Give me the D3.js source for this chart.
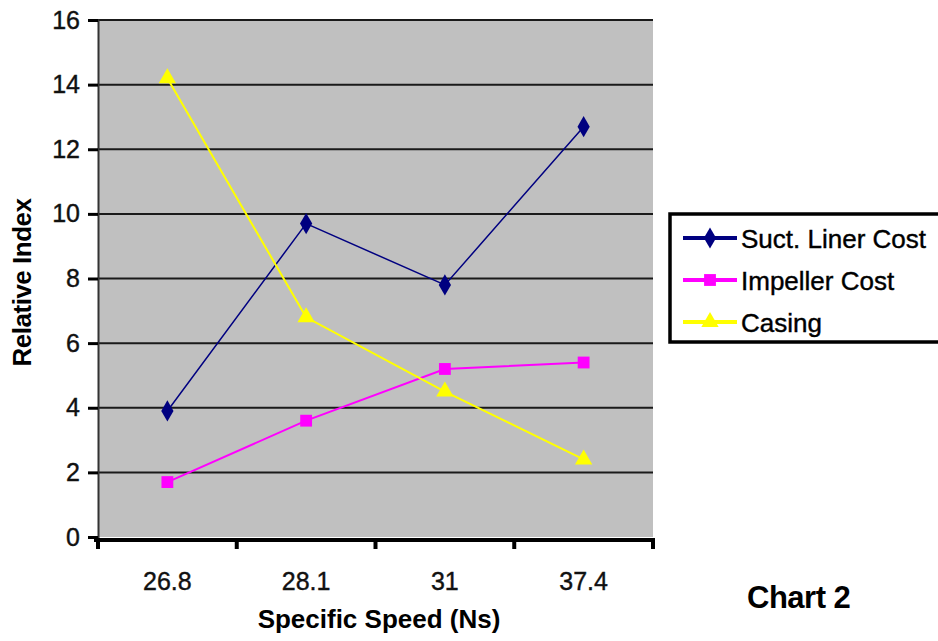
<!DOCTYPE html>
<html>
<head>
<meta charset="utf-8">
<script src="https://cdn.jsdelivr.net/npm/d3@7/dist/d3.min.js"></script>
<style>
  html, body { margin: 0; padding: 0; background: #fff; }
  svg { display: block; font-family: "Liberation Sans", Arial, sans-serif; }
</style>
</head>
<body>
<svg id="chart" width="938" height="641"></svg>
<script>
// Specific speed categories and relative cost indices
const categories = ["26.8", "28.1", "31", "37.4"];
const suctLinerCost = [3.9, 9.7, 7.8, 12.7];
const impellerCost = [1.7, 3.6, 5.2, 5.4];
const casing = [14.2, 6.8, 4.5, 2.4];
const yTicks = [0, 2, 4, 6, 8, 10, 12, 14, 16];
const seriesNames = ["Suct. Liner Cost", "Impeller Cost", "Casing"];

const series = [
  { name: seriesNames[0], values: suctLinerCost, color: "#000080", symbol: d3.symbolDiamond, size: 130, width: 1.5 },
  { name: seriesNames[1], values: impellerCost, color: "#ff00ff", symbol: d3.symbolSquare, size: 140, width: 2 },
  { name: seriesNames[2], values: casing, color: "#ffff00", symbol: d3.symbolTriangle, size: 130, width: 2 }
];

const svg = d3.select("#chart");
const plot = { left: 98, right: 653, top: 20, bottom: 537 };

const x = d3.scaleBand().domain(categories).range([plot.left, plot.right]).padding(0);
const y = d3.scaleLinear().domain([0, 16]).range([plot.bottom, plot.top]);

// Plot background
svg.append("rect")
  .attr("x", plot.left).attr("y", plot.top)
  .attr("width", plot.right - plot.left).attr("height", plot.bottom - plot.top)
  .attr("fill", "#c0c0c0");

// Horizontal gridlines
svg.append("g").selectAll("line")
  .data(yTicks.filter(t => t > 0))
  .join("line")
  .attr("x1", plot.left).attr("x2", plot.right)
  .attr("y1", d => y(d)).attr("y2", d => y(d))
  .attr("stroke", "#1a1a1a").attr("stroke-width", 2);

// Y axis
const yAxis = svg.append("g")
  .attr("transform", `translate(${plot.left},0)`)
  .call(d3.axisLeft(y).tickValues(yTicks).tickSize(10).tickPadding(8).tickFormat(d3.format("d")));
yAxis.select(".domain").attr("stroke", "#333").attr("stroke-width", 2);
yAxis.selectAll(".tick line").attr("stroke", "#000").attr("stroke-width", 3);
yAxis.selectAll("text")
  .attr("font-size", 25).attr("fill", "#111")
  .attr("stroke", "#111").attr("stroke-width", 0.4)
  .attr("font-family", "'Liberation Sans', Arial, sans-serif");

// X axis with ticks between categories
const xAxisG = svg.append("g").attr("transform", `translate(0,${plot.bottom + 3})`);
xAxisG.append("line")
  .attr("x1", plot.left - 4).attr("x2", plot.right + 2)
  .attr("stroke", "#000").attr("stroke-width", 4);
const boundaries = categories.map(c => x(c)).concat([x(categories[categories.length - 1]) + x.bandwidth()]);
xAxisG.selectAll("line.tk")
  .data(boundaries)
  .join("line").attr("class", "tk")
  .attr("x1", d => d).attr("x2", d => d)
  .attr("y1", 0).attr("y2", 9)
  .attr("stroke", "#000").attr("stroke-width", 4);
xAxisG.selectAll("text")
  .data(categories)
  .join("text")
  .attr("x", d => x(d) + x.bandwidth() / 2)
  .attr("y", 50)
  .attr("text-anchor", "middle")
  .attr("font-size", 25).attr("fill", "#111")
  .attr("stroke", "#111").attr("stroke-width", 0.4)
  .text(d => d);

// Series lines and markers
const line = d3.line()
  .x((d, i) => x(categories[i]) + x.bandwidth() / 2)
  .y(d => y(d));

series.forEach(s => {
  svg.append("path")
    .datum(s.values)
    .attr("d", line)
    .attr("fill", "none")
    .attr("stroke", s.color)
    .attr("stroke-width", s.width);
  svg.append("g").selectAll("path")
    .data(s.values)
    .join("path")
    .attr("transform", (d, i) => `translate(${x(categories[i]) + x.bandwidth() / 2},${y(d)})`)
    .attr("d", d3.symbol().type(s.symbol).size(s.size))
    .attr("fill", s.color);
});

// Axis titles
svg.append("text")
  .attr("transform", `translate(31,${(plot.top + plot.bottom) / 2 + 4}) rotate(-90)`)
  .attr("text-anchor", "middle")
  .attr("font-size", 26).attr("font-weight", "bold").attr("fill", "#000")
  .attr("letter-spacing", -0.5)
  .text("Relative Index");

svg.append("text")
  .attr("x", 379).attr("y", 628)
  .attr("text-anchor", "middle")
  .attr("font-size", 26).attr("font-weight", "bold").attr("fill", "#000")
  .text("Specific Speed (Ns)");

// Legend
const legend = svg.append("g");
legend.append("rect")
  .attr("x", 670).attr("y", 214)
  .attr("width", 290).attr("height", 128)
  .attr("fill", "#fff").attr("stroke", "#000").attr("stroke-width", 3.5);
series.forEach((s, i) => {
  const ly = 238 + i * 42;
  legend.append("line")
    .attr("x1", 683).attr("x2", 737).attr("y1", ly).attr("y2", ly)
    .attr("stroke", s.color).attr("stroke-width", 4);
  legend.append("path")
    .attr("transform", `translate(710,${ly})`)
    .attr("d", d3.symbol().type(s.symbol).size(s.size))
    .attr("fill", s.color);
  legend.append("text")
    .attr("x", 741).attr("y", ly + 10)
    .attr("font-size", 26).attr("fill", "#000")
    .attr("stroke", "#000").attr("stroke-width", 0.4)
    .text(s.name);
});

// Caption
svg.append("text")
  .attr("x", 747).attr("y", 608)
  .attr("font-size", 31).attr("font-weight", "bold").attr("fill", "#000")
  .attr("letter-spacing", -0.5)
  .text("Chart 2");
</script>
</body>
</html>
